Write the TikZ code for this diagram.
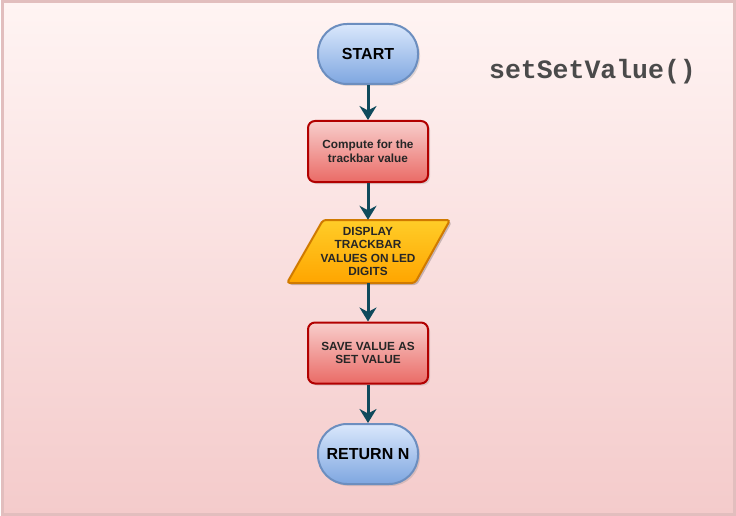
\documentclass[tikz,border=0pt]{standalone}
\usepackage{fontspec}
\setmainfont{Liberation Sans}
\newfontfamily\codefont{Liberation Mono}
\usetikzlibrary{arrows.meta,shadows,positioning}
\definecolor{bgtop}{HTML}{FFF4F3}
\definecolor{bgbot}{HTML}{F4CBCB}
\definecolor{frame}{HTML}{E2BEBE}
\definecolor{blueT}{HTML}{DAE8FC}
\definecolor{blueB}{HTML}{7EA6E0}
\definecolor{blueD}{HTML}{6C8EBF}
\definecolor{redT}{HTML}{F8CECC}
\definecolor{redB}{HTML}{EA6B66}
\definecolor{redD}{HTML}{B20000}
\definecolor{yelT}{HTML}{FFCD28}
\definecolor{yelB}{HTML}{FFA500}
\definecolor{yelD}{HTML}{D07A00}
\definecolor{arrowc}{HTML}{0F4A5C}
\definecolor{codec}{HTML}{4A4A4A}
\tikzset{
  term/.style={draw=blueD, line width=2pt, top color=blueT, bottom color=blueB,
    rounded corners=29pt, minimum width=100pt, minimum height=60pt,
    font=\bfseries\fontsize{16}{18}\selectfont, text=black,
    drop shadow={shadow xshift=2pt, shadow yshift=-2pt, opacity=0.25}},
  proc/.style={draw=redD, line width=2pt, top color=redT, bottom color=redB,
    rounded corners=7pt, minimum width=120pt, minimum height=61pt,
    font=\bfseries\fontsize{11.8}{13.5}\selectfont, align=center, text=black!85,
    drop shadow={shadow xshift=2pt, shadow yshift=-2pt, opacity=0.25}},
  iotext/.style={minimum width=128pt, minimum height=63pt, inner sep=0pt,
    font=\bfseries\fontsize{11.8}{13.6}\selectfont, align=center, text=black!85},
  flow/.style={arrowc, line width=3pt, -{Stealth[length=14pt,width=17pt,inset=4.5pt]}}
}
\begin{document}
\begin{tikzpicture}[x=1pt,y=-1pt]
\useasboundingbox (0,0) rectangle (736,516);
\shade[top color=bgtop, bottom color=bgbot] (2,2) rectangle (734,514);
\draw[frame, line width=3pt] (2,2) rectangle (734,514);

\node[term] (start) at (368,54) {START};
\node[proc] (comp) at (368,151.5) {Compute for the\\trackbar value};
% parallelogram
\fill[black, opacity=0.2, rounded corners=3pt] (325,222) -- (452,222) -- (417,285) -- (289,285) -- cycle;
\draw[yelD, line width=2pt, top color=yelT, bottom color=yelB, rounded corners=3pt]
  (323,220) -- (450,220) -- (415,283) -- (287,283) -- cycle;
\node[iotext] (disp) at (368,251.5) {DISPLAY\\TRACKBAR\\VALUES ON LED\\DIGITS};
\node[proc] (save) at (368,353) {SAVE VALUE AS\\SET VALUE};
\node[term] (ret) at (368,454) {RETURN N};

\node[font=\codefont\bfseries\fontsize{26.5}{28}\selectfont, text=codec] (title) at (592.5,72) {setSetValue()};

\draw[flow] (start) -- (comp);
\draw[flow] (comp) -- (disp);
\draw[flow] (disp) -- (save);
\draw[flow] (save) -- (ret);
\end{tikzpicture}
\end{document}
